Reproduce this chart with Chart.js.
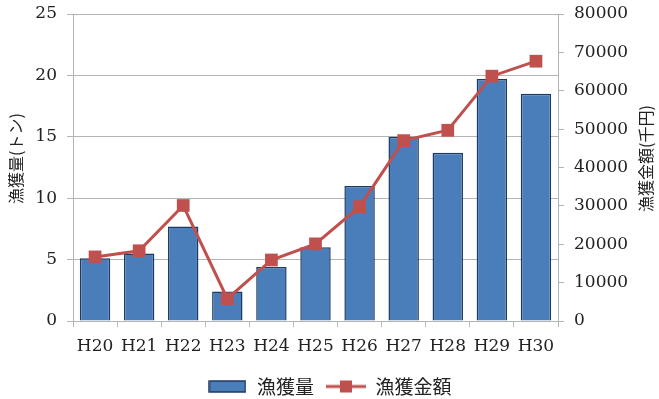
<!DOCTYPE html>
<html>
<head>
<meta charset="utf-8">
<script src="https://cdn.jsdelivr.net/npm/chart.js@4"></script>
<style>
  html, body { margin: 0; padding: 0; background: #fff; }
  #wrap { width: 659px; height: 399px; }
</style>
</head>
<body>
<div id="wrap"><canvas id="catch-chart" width="659" height="399"></canvas></div>
<script>
// Data
const years = ['H20', 'H21', 'H22', 'H23', 'H24', 'H25', 'H26', 'H27', 'H28', 'H29', 'H30'];
const catchTons = [5.1, 5.5, 7.7, 2.4, 4.4, 6.0, 11.0, 15.0, 13.7, 19.7, 18.5];
const catchValue = [16700, 18300, 30100, 5800, 15900, 20100, 29800, 47000, 49700, 63800, 67700];
const leftTicks = [0, 5, 10, 15, 20, 25];
const rightTicks = [0, 10000, 20000, 30000, 40000, 50000, 60000, 70000, 80000];
const leftTitle = '漁獲量(トン)';
const rightTitleText = '漁獲金額(千円)';

const barFill = '#4a7ebb';
const barEdge = '#1f3a60';
const lineColor = '#c0504d';
const gridColor = '#b4b4b4';
const serif = "'DejaVu Serif', 'Liberation Serif', serif";
const cjk = "'Noto Sans CJK JP', sans-serif";

// legend symbols
function barSymbol() {
    const c = document.createElement('canvas');
    c.width = 38; c.height = 13;
    const g = c.getContext('2d');
    g.fillStyle = barFill;
    g.fillRect(1, 1, 36, 11);
    g.strokeStyle = barEdge;
    g.lineWidth = 1.5;
    g.strokeRect(1, 1, 36, 11);
    return c;
}
function lineSymbol() {
    const c = document.createElement('canvas');
    c.width = 40; c.height = 14;
    const g = c.getContext('2d');
    g.strokeStyle = lineColor;
    g.lineWidth = 3;
    g.beginPath();
    g.moveTo(0, 7); g.lineTo(40, 7);
    g.stroke();
    g.fillStyle = lineColor;
    g.fillRect(14, 1, 12, 12);
    return c;
}

// both axis titles read bottom-to-top, sitting a little above the middle
const axisTitles = {
    id: 'axisTitles',
    afterDraw(chart) {
        const ctx = chart.ctx;
        const a = chart.chartArea;
        const midY = (a.top + a.bottom) / 2 - 9;
        ctx.save();
        ctx.font = '16px ' + cjk;
        ctx.fillStyle = '#222';
        ctx.textAlign = 'center';
        ctx.textBaseline = 'middle';
        ctx.translate(16, midY);
        ctx.rotate(-Math.PI / 2);
        ctx.fillText(leftTitle, 0, 0);
        ctx.restore();
        ctx.save();
        ctx.font = '16px ' + cjk;
        ctx.fillStyle = '#222';
        ctx.textAlign = 'center';
        ctx.textBaseline = 'middle';
        ctx.translate(646, midY);
        ctx.rotate(-Math.PI / 2);
        ctx.fillText(rightTitleText, 0, 0);
        ctx.restore();
    }
};

const ctx = document.getElementById('catch-chart').getContext('2d');
const catchChart = new Chart(ctx, {
    type: 'bar',
    data: {
        labels: years,
        datasets: [{
            type: 'bar',
            label: '漁獲量',
            data: catchTons,
            yAxisID: 'y',
            backgroundColor: barFill,
            borderColor: barEdge,
            borderWidth: 1.5,
            categoryPercentage: 0.69,
            barPercentage: 1,
            order: 2
        }, {
            type: 'line',
            label: '漁獲金額',
            data: catchValue,
            yAxisID: 'y1',
            borderColor: lineColor,
            backgroundColor: lineColor,
            borderWidth: 3,
            pointStyle: 'rect',
            pointRadius: 9,
            pointBorderWidth: 0,
            tension: 0,
            order: 1
        }]
    },
    options: {
        responsive: false,
        animation: false,
        layout: { padding: { top: 14, left: 0, right: 0, bottom: -7 } },
        plugins: {
            tooltip: { enabled: false },
            legend: {
                position: 'bottom',
                labels: {
                    usePointStyle: true,
                    pointStyleWidth: 40,
                    padding: 12,
                    color: '#222',
                    font: { family: cjk, size: 19 },
                    sort: (a, b) => a.datasetIndex - b.datasetIndex,
                    generateLabels(chart) {
                        const items = Chart.defaults.plugins.legend.labels.generateLabels(chart);
                        items.forEach(item => {
                            item.pointStyle = item.datasetIndex === 0 ? barSymbol() : lineSymbol();
                        });
                        return items;
                    }
                }
            }
        },
        scales: {
            x: {
                grid: { display: true, drawOnChartArea: false, tickLength: 6, color: gridColor },
                border: { color: gridColor },
                ticks: { color: '#222', font: { family: serif, size: 17 }, padding: 9, maxRotation: 0 },
                afterFit(scale) { scale.height = 44; }
            },
            y: {
                position: 'left',
                min: 0,
                max: 25,
                afterBuildTicks(scale) { scale.ticks = leftTicks.map(v => ({ value: v })); },
                grid: { color: gridColor, tickLength: 6 },
                border: { color: gridColor },
                ticks: { color: '#222', font: { family: serif, size: 17 }, padding: 10 },
                afterFit(scale) { scale.width = 73; scale.paddingTop = 0; scale.paddingBottom = 0; }
            },
            y1: {
                position: 'right',
                min: 0,
                max: 80000,
                afterBuildTicks(scale) { scale.ticks = rightTicks.map(v => ({ value: v })); },
                grid: { drawOnChartArea: false, color: gridColor, tickLength: 6 },
                border: { color: gridColor },
                ticks: { color: '#222', font: { family: serif, size: 17 }, padding: 10, callback: v => String(v) },
                afterFit(scale) { scale.width = 101; scale.paddingTop = 0; scale.paddingBottom = 0; }
            }
        }
    },
    plugins: [axisTitles]
});
</script>
</body>
</html>
